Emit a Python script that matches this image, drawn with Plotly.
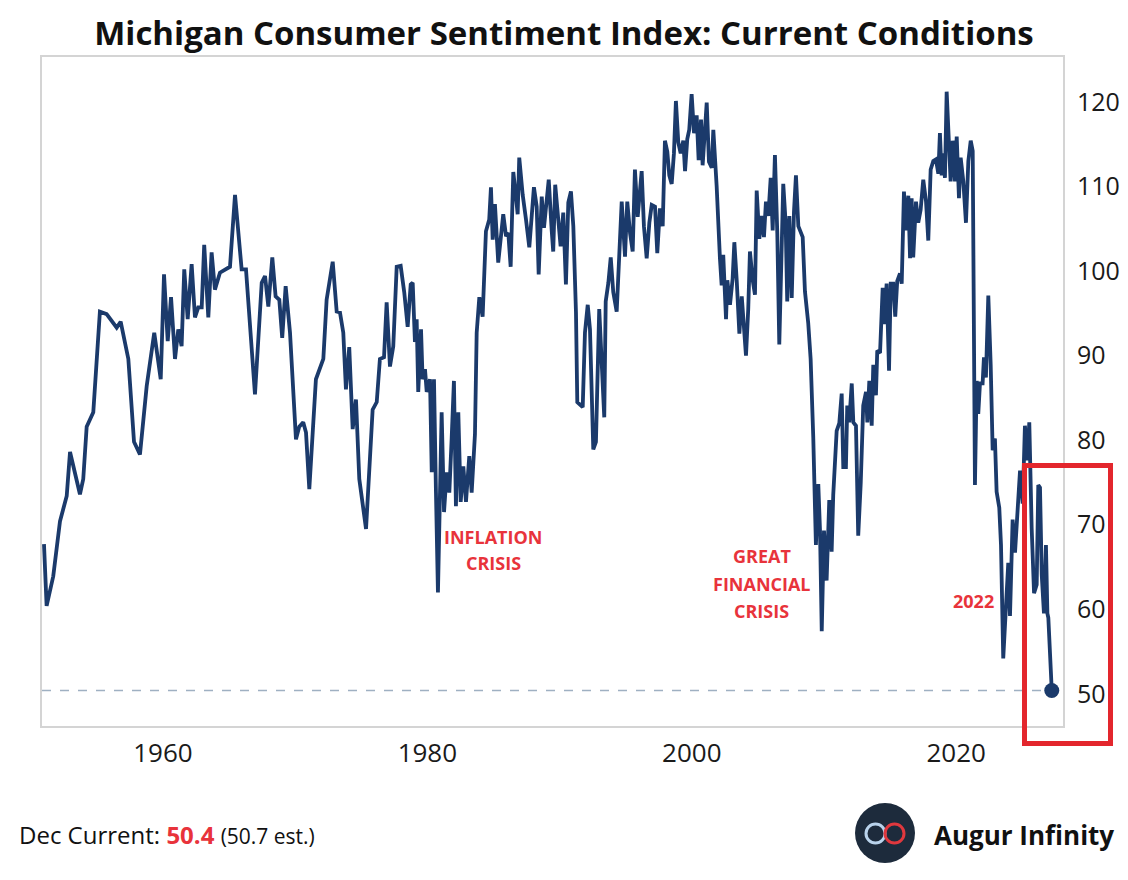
import plotly.graph_objects as go

# Index of Current Economic Conditions (positions, x in axis years)
years = [
    1951.00, 1951.20, 1951.70, 1952.21, 1952.72, 1952.97, 1953.72, 1953.97, 1954.23, 1954.73,
    1955.23, 1955.74, 1956.50, 1956.80, 1957.38, 1957.81, 1958.26, 1958.77, 1959.34, 1959.83,
    1960.08, 1960.36, 1960.61, 1960.91, 1961.16, 1961.41, 1961.61, 1961.87, 1962.17, 1962.42,
    1962.67, 1962.93, 1963.12, 1963.43, 1963.68, 1963.93, 1964.31, 1965.07, 1965.45, 1965.95,
    1966.28, 1966.96, 1967.47, 1967.72, 1967.97, 1968.27, 1968.52, 1968.80, 1969.02, 1969.28,
    1969.61, 1970.06, 1970.31, 1970.61, 1970.82, 1971.07, 1971.57, 1971.88, 1972.13, 1972.38,
    1972.84, 1973.14, 1973.39, 1973.64, 1973.84, 1974.09, 1974.35, 1974.60, 1974.85, 1975.36,
    1975.86, 1976.17, 1976.41, 1976.72, 1976.92, 1977.17, 1977.42, 1977.68, 1977.98, 1978.25,
    1978.51, 1978.74, 1978.89, 1979.06, 1979.19, 1979.31, 1979.52, 1979.64, 1979.82, 1979.95,
    1980.20, 1980.33, 1980.50, 1980.65, 1980.80, 1981.08, 1981.26, 1981.46, 1981.66, 1981.84,
    1982.01, 1982.16, 1982.34, 1982.52, 1982.72, 1982.92, 1983.17, 1983.35, 1983.60, 1983.73,
    1983.93, 1984.18, 1984.43, 1984.68, 1984.81, 1984.94, 1985.11, 1985.36, 1985.62, 1985.74,
    1985.95, 1986.12, 1986.30, 1986.50, 1986.70, 1986.83, 1986.95, 1987.21, 1987.46, 1987.71,
    1988.06, 1988.27, 1988.42, 1988.65, 1988.82, 1989.02, 1989.18, 1989.40, 1989.52, 1989.67,
    1989.90, 1990.08, 1990.28, 1990.48, 1990.66, 1990.86, 1991.04, 1991.24, 1991.34, 1991.54,
    1991.75, 1991.92, 1992.13, 1992.30, 1992.55, 1992.75, 1993.00, 1993.21, 1993.38, 1993.49,
    1993.69, 1993.87, 1994.06, 1994.32, 1994.70, 1994.95, 1995.12, 1995.33, 1995.53, 1995.70,
    1995.91, 1996.21, 1996.38, 1996.59, 1996.79, 1996.97, 1997.22, 1997.39, 1997.59, 1997.80,
    1997.97, 1998.15, 1998.30, 1998.48, 1998.65, 1998.80, 1998.98, 1999.16, 1999.36, 1999.49,
    1999.66, 1999.81, 1999.99, 2000.17, 2000.37, 2000.52, 2000.70, 2000.82, 2001.00, 2001.13,
    2001.30, 2001.51, 2001.63, 2001.88, 2002.13, 2002.26, 2002.38, 2002.59, 2002.69, 2002.89,
    2003.09, 2003.22, 2003.40, 2003.60, 2003.78, 2003.95, 2004.10, 2004.27, 2004.40, 2004.61,
    2004.78, 2004.91, 2005.11, 2005.29, 2005.46, 2005.61, 2005.79, 2005.97, 2006.12, 2006.29,
    2006.47, 2006.62, 2006.80, 2006.92, 2007.10, 2007.22, 2007.38, 2007.56, 2007.73, 2007.88,
    2008.06, 2008.24, 2008.39, 2008.56, 2008.81, 2008.99, 2009.19, 2009.39, 2009.57, 2009.70,
    2009.83, 2010.00, 2010.20, 2010.40, 2010.58, 2010.70, 2010.96, 2011.16, 2011.34, 2011.46,
    2011.66, 2011.76, 2011.91, 2012.10, 2012.22, 2012.42, 2012.59, 2012.78, 2012.97, 2013.18,
    2013.28, 2013.43, 2013.61, 2013.73, 2013.93, 2014.03, 2014.24, 2014.44, 2014.56, 2014.74,
    2014.92, 2015.05, 2015.24, 2015.39, 2015.54, 2015.75, 2015.88, 2016.05, 2016.20, 2016.38,
    2016.51, 2016.63, 2016.75, 2016.96, 2017.13, 2017.31, 2017.51, 2017.72, 2017.89, 2018.07,
    2018.27, 2018.47, 2018.65, 2018.77, 2018.90, 2019.02, 2019.15, 2019.28, 2019.40, 2019.58,
    2019.74, 2019.91, 2020.04, 2020.21, 2020.34, 2020.54, 2020.74, 2020.92, 2021.10, 2021.25,
    2021.42, 2021.55, 2021.67, 2021.80, 2022.00, 2022.10, 2022.25, 2022.43, 2022.61, 2022.76,
    2022.93, 2023.06, 2023.26, 2023.39, 2023.56, 2023.77, 2023.94, 2024.07, 2024.27, 2024.45,
    2024.62, 2024.83, 2025.03, 2025.20, 2025.38, 2025.53, 2025.71, 2025.89, 2026.09, 2026.21,
    2026.34, 2026.47, 2026.64, 2026.79, 2026.90, 2026.97, 2027.23,
]

index_values = [
    67.7, 60.4, 63.9, 70.4, 73.4, 78.6, 73.6, 75.4, 81.6, 83.3,
    95.2, 94.9, 93.3, 94.0, 89.6, 79.8, 78.3, 86.4, 92.7, 87.2,
    99.6, 91.7, 96.9, 89.6, 93.1, 91.1, 100.2, 94.3, 100.8, 94.5,
    95.7, 95.7, 103.1, 94.5, 102.2, 97.8, 99.8, 100.5, 109.0, 100.2,
    100.2, 85.4, 98.6, 99.4, 95.8, 101.6, 97.0, 96.6, 92.1, 98.2,
    92.7, 80.1, 81.6, 82.1, 80.9, 74.2, 87.2, 88.4, 89.6, 96.6,
    101.1, 95.2, 95.1, 92.7, 86.0, 91.0, 81.3, 84.8, 75.4, 69.5,
    83.6, 84.5, 89.6, 89.8, 96.3, 88.7, 91.1, 100.5, 100.6, 97.5,
    93.4, 98.4, 98.6, 91.6, 94.3, 85.7, 93.1, 87.2, 88.4, 85.7,
    87.2, 76.2, 87.2, 73.8, 62.0, 83.3, 71.5, 76.2, 73.8, 80.3,
    87.0, 72.2, 83.3, 72.7, 76.9, 72.7, 78.1, 73.8, 80.7, 92.7,
    96.9, 94.6, 104.7, 106.1, 109.9, 103.7, 107.9, 101.0, 104.9, 106.7,
    104.1, 104.5, 100.5, 111.7, 108.8, 106.7, 113.4, 109.0, 106.1, 102.8,
    109.9, 107.6, 99.6, 108.8, 105.1, 108.8, 110.8, 104.9, 102.3, 110.2,
    105.7, 102.9, 106.9, 98.4, 108.1, 109.4, 105.3, 95.1, 84.5, 84.2,
    83.9, 92.7, 96.0, 93.1, 78.9, 79.8, 95.5, 88.4, 82.7, 96.4,
    98.6, 101.6, 97.5, 95.2, 108.2, 101.7, 108.2, 104.5, 102.3, 112.0,
    106.4, 111.8, 105.3, 101.5, 105.7, 107.8, 107.6, 102.1, 107.4, 105.3,
    115.4, 114.1, 111.3, 110.3, 113.9, 120.1, 115.2, 113.9, 115.4, 111.8,
    115.6, 116.7, 120.9, 116.3, 118.4, 113.1, 117.9, 112.5, 117.9, 119.9,
    112.9, 112.2, 116.7, 110.1, 101.5, 98.3, 101.9, 94.3, 98.9, 96.0,
    99.1, 103.4, 98.9, 92.6, 97.0, 93.4, 90.0, 95.5, 102.3, 98.9,
    97.2, 109.5, 103.8, 106.5, 104.0, 108.2, 106.5, 111.0, 104.8, 113.7,
    104.4, 91.3, 104.4, 110.3, 105.7, 96.4, 106.5, 96.8, 107.0, 111.3,
    105.3, 104.4, 104.0, 97.6, 93.8, 89.6, 80.3, 67.6, 74.8, 69.3,
    57.4, 69.3, 63.4, 72.9, 66.8, 73.5, 81.1, 82.0, 85.5, 76.8,
    76.8, 84.1, 82.1, 86.7, 82.1, 81.7, 68.7, 74.9, 84.1, 85.7,
    82.1, 87.0, 81.7, 88.9, 85.3, 90.6, 90.3, 98.0, 93.7, 98.5,
    88.2, 98.5, 98.5, 94.6, 98.8, 99.7, 98.5, 109.4, 104.8, 108.9,
    101.5, 108.6, 101.6, 108.2, 105.7, 107.2, 110.8, 108.2, 103.6, 112.0,
    113.0, 113.2, 111.5, 116.3, 111.3, 113.9, 111.0, 121.2, 116.3, 110.6,
    115.4, 110.6, 115.9, 108.6, 113.4, 110.6, 105.7, 113.0, 115.4, 114.2,
    74.7, 87.0, 83.1, 86.7, 86.7, 89.8, 87.4, 97.1, 88.9, 78.8,
    80.2, 73.9, 72.0, 67.6, 54.2, 59.5, 65.5, 59.2, 70.6, 66.7,
    71.5, 76.4, 72.5, 81.7, 77.6, 82.1, 69.6, 61.9, 62.9, 74.7,
    74.4, 64.1, 59.5, 67.6, 59.5, 59.0, 50.4,
]

x_ticks = [1960, 1980, 2000, 2020]
y_ticks = [50, 60, 70, 80, 90, 100, 110, 120]

dec_current = 50.4
dec_estimate = 50.7

# crisis labels: (text lines, x year, y value per line)
crisis_labels = [
    (["INFLATION", "CRISIS"], 1985.0, [68.6, 65.5]),
    (["GREAT", "FINANCIAL", "CRISIS"], 2005.3, [66.3, 63.0, 59.8]),
    (["2022"], 2021.3, [61.0]),
]

NAVY = "#1b3a6b"
RED = "#e3262d"
LABEL_RED = "#e8333b"
FONT = "Open Sans"

# the page body adds an 8px margin, so the figure is shifted by 8px
OFF = 8
W, H = 1120, 864
L, T = 42 - OFF, 57 - OFF
R = W - (1063 - OFF)
B = H - (726 - OFF)


def px_x(p):
    # reference-picture pixel -> paper x
    return (p - OFF - L) / (W - L - R)


def px_y(p):
    # reference-picture pixel -> paper y
    return (H - B - (p - OFF)) / (H - T - B)


x_range = [1950.85, 2028.08]
y_range = [46.2, 125.3]

fig = go.Figure()

fig.add_trace(go.Scatter(
    x=years, y=index_values, mode="lines",
    line=dict(color=NAVY, width=3.8), hoverinfo="skip", showlegend=False,
))
fig.add_trace(go.Scatter(
    x=[years[-1]], y=[index_values[-1]], mode="markers",
    marker=dict(color=NAVY, size=15), hoverinfo="skip", showlegend=False,
))

# dashed reference at the latest reading
fig.add_shape(type="line", xref="x", yref="y",
              x0=x_range[0], x1=years[-1], y0=index_values[-1], y1=index_values[-1],
              line=dict(color="#9fb0c2", width=1.5, dash="dash"), layer="below")

# red highlight box
fig.add_shape(type="rect", xref="paper", yref="paper",
              x0=px_x(1024.5), x1=px_x(1110.5), y0=px_y(743.5), y1=px_y(465.5),
              line=dict(color=RED, width=5), fillcolor="rgba(0,0,0,0)")

for lines, lx, ly in crisis_labels:
    for txt, yy in zip(lines, ly):
        fig.add_annotation(x=lx, y=yy, text=f"<b>{txt}</b>", showarrow=False,
                           font=dict(family=FONT, size=18, color=LABEL_RED))

# footer
fig.add_annotation(
    xref="paper", yref="paper", x=px_x(17), y=px_y(834), xanchor="left", yanchor="middle",
    text=(f"Dec Current: <b><span style='color:{LABEL_RED}'>{dec_current}</span></b> "
          f"<span style='font-size:21px'>({dec_estimate} est.)</span>"),
    showarrow=False, font=dict(family=FONT, size=24, color="#111111"),
)

# logo
fig.add_shape(type="circle", xref="paper", yref="paper",
              x0=px_x(855), x1=px_x(915), y0=px_y(863), y1=px_y(803),
              fillcolor="#1d2b3c", line=dict(width=0))
fig.add_shape(type="circle", xref="paper", yref="paper",
              x0=px_x(866), x1=px_x(885), y0=px_y(843), y1=px_y(824),
              fillcolor="rgba(0,0,0,0)", line=dict(color="#b9d3ec", width=3))
fig.add_shape(type="circle", xref="paper", yref="paper",
              x0=px_x(885), x1=px_x(904), y0=px_y(843), y1=px_y(824),
              fillcolor="rgba(0,0,0,0)", line=dict(color="#e0383e", width=3))
fig.add_annotation(
    xref="paper", yref="paper", x=px_x(932), y=px_y(835), xanchor="left", yanchor="middle",
    text="<b>Augur Infinity</b>", showarrow=False,
    font=dict(family=FONT, size=26, color="#111111"),
)

fig.update_layout(
    width=W, height=H,
    margin=dict(l=L, r=R, t=T, b=B, autoexpand=False),
    paper_bgcolor="white", plot_bgcolor="white",
    title=dict(text="<b>Michigan Consumer Sentiment Index: Current Conditions</b>",
               x=(564 - OFF) / W, xref="container", xanchor="center",
               y=1 - (33 - OFF) / H, yref="container", yanchor="middle",
               font=dict(family=FONT, size=33, color="#111111")),
    xaxis=dict(range=x_range, tickvals=x_ticks, showgrid=False, zeroline=False,
               showline=True, mirror=True, linecolor="#d4d4d4", linewidth=2,
               ticks="", ticklabelstandoff=3, automargin=False,
               tickfont=dict(family=FONT, size=26, color="#1a1a1a")),
    yaxis=dict(range=y_range, tickvals=y_ticks, side="right", showgrid=False, zeroline=False,
               showline=True, mirror=True, linecolor="#d4d4d4", linewidth=2,
               ticks="", ticklabelstandoff=7, automargin=False,
               tickfont=dict(family=FONT, size=25, color="#1a1a1a")),
    showlegend=False,
)

fig.write_html("out.html")
